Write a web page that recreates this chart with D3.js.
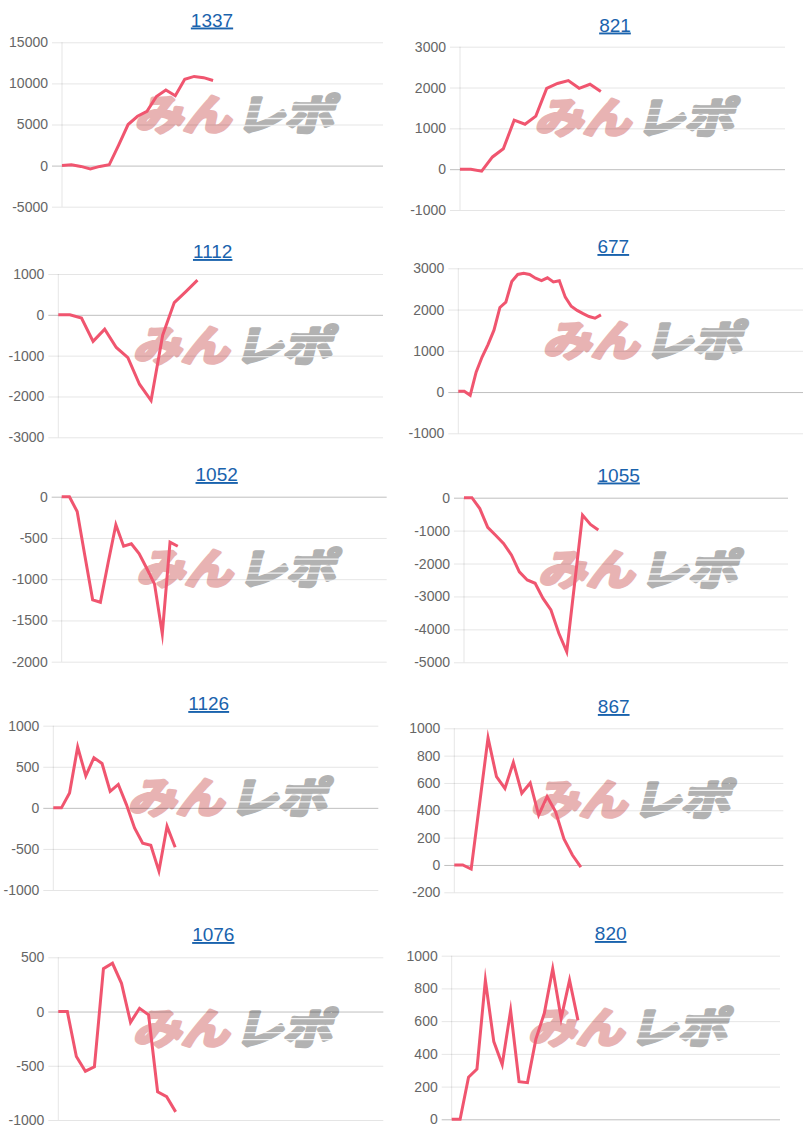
<!DOCTYPE html>
<html>
<head>
<meta charset="utf-8">
<script src="https://cdn.jsdelivr.net/npm/d3@7/dist/d3.min.js"></script>
<style>
  html, body { margin: 0; padding: 0; background: #fff; }
  svg { display: block; }
</style>
</head>
<body>
<svg id="chart" width="804" height="1140"></svg>
<script>
// ---- data ----
const titles = ["1337", "821", "1112", "677", "1052", "1055", "1126", "867", "1076", "820"];

const series1337 = [0, 100, -100, -400, -100, 100, 2500, 5000, 6000, 6600, 8400, 9200, 8500, 10500, 10850, 10700, 10350];
const series821  = [0, 0, -50, 300, 500, 1200, 1100, 1300, 1980, 2100, 2170, 1980, 2080, 1900];
const series1112 = [0, 0, -80, -650, -350, -800, -1050, -1700, -2100, -500, 300, 570, 850];
const series677  = [20, 20, -80, 480, 850, 1150, 1500, 2050, 2180, 2680, 2850, 2880, 2850, 2760, 2700, 2770, 2670, 2700, 2300, 2080, 1980, 1900, 1830, 1790, 1870];
const series1052 = [0, 0, -180, -720, -1250, -1280, -800, -340, -600, -570, -690, -870, -1060, -1660, -550, -600];
const series1055 = [0, 0, -330, -900, -1140, -1390, -1740, -2250, -2500, -2600, -3060, -3410, -4120, -4680, -2600, -530, -810, -980];
const series1126 = [0, 0, 180, 740, 390, 610, 540, 200, 285, 40, -245, -430, -455, -770, -225, -480];
const series867  = [0, 0, -30, 450, 930, 646, 560, 750, 525, 600, 365, 500, 390, 190, 73, -15];
const series1076 = [0, 0, -415, -550, -510, 395, 445, 260, -100, 30, -30, -740, -785, -925];
const series820  = [0, 0, 257, 307, 850, 475, 335, 665, 230, 224, 490, 648, 920, 617, 850, 605];

// total number of x slots on each chart's category axis
const slotCounts = [34, 30, 28, 58, 42, 41, 40, 39, 36, 39];

const ticks1337 = [-5000, 0, 5000, 10000, 15000];
const ticks821  = [-1000, 0, 1000, 2000, 3000];
const ticks1112 = [-3000, -2000, -1000, 0, 1000];
const ticks677  = [-1000, 0, 1000, 2000, 3000];
const ticks1052 = [-2000, -1500, -1000, -500, 0];
const ticks1055 = [-5000, -4000, -3000, -2000, -1000, 0];
const ticks1126 = [-1000, -500, 0, 500, 1000];
const ticks867  = [-200, 0, 200, 400, 600, 800, 1000];
const ticks1076 = [-1000, -500, 0, 500];
const ticks820  = [0, 200, 400, 600, 800, 1000];

const seriesList = [series1337, series821, series1112, series677, series1052, series1055, series1126, series867, series1076, series820];
const tickList = [ticks1337, ticks821, ticks1112, ticks677, ticks1052, ticks1055, ticks1126, ticks867, ticks1076, ticks820];

// ---- layout (pixel positions of each panel) ----
const panels = [
  {tx: 212, ty: 26.5, x0: 62,    x1: 383,   yb: 206.7, yt: 42.3},
  {tx: 615, ty: 31.5, x0: 460,   x1: 785,   yb: 210,   yt: 46.7},
  {tx: 212.7, ty: 258, x0: 58.3, x1: 383,   yb: 437.3, yt: 274},
  {tx: 613.3, ty: 253, x0: 458.3, x1: 803,  yb: 433.3, yt: 268.3},
  {tx: 216.7, ty: 481, x0: 61.7, x1: 386.7, yb: 661.7, yt: 496.7},
  {tx: 618.7, ty: 481.5, x0: 464, x1: 788,  yb: 662.3, yt: 497.7},
  {tx: 208.7, ty: 710, x0: 53.3, x1: 378.3, yb: 890,   yt: 725.7},
  {tx: 613.7, ty: 713, x0: 454.3, x1: 783.3, yb: 892.3, yt: 728.3},
  {tx: 213.3, ty: 941, x0: 58.3, x1: 383.3, yb: 1120,  yt: 957.3},
  {tx: 610.7, ty: 940, x0: 451.7, x1: 780,  yb: 1119.3, yt: 955.7}
];

const svg = d3.select("#chart");
const lineColor = "#f0556f";

seriesList.forEach((vals, i) => {
  const p = panels[i];
  const ticks = tickList[i];
  const g = svg.append("g");

  const x = d3.scaleLinear().domain([0, slotCounts[i]]).range([p.x0, p.x1]);
  const y = d3.scaleLinear().domain([d3.min(ticks), d3.max(ticks)]).range([p.yb, p.yt]);

  // watermark (behind everything)
  const cx = (p.x0 + p.x1) / 2 + 11;
  const cy = (p.yb + p.yt) / 2 - 10;
  const wm = g.append("g").attr("transform", `translate(${cx},${cy + 15}) skewX(-14)`);
  wm.append("text")
    .attr("x", -99).attr("y", 0)
    .attr("textLength", 96).attr("lengthAdjust", "spacingAndGlyphs")
    .attr("font-family", "'Noto Sans CJK JP', sans-serif")
    .attr("font-weight", 700).attr("font-size", 42)
    .attr("fill", "#e8b3b3").attr("stroke", "#e8b3b3")
    .attr("stroke-width", 3.5).attr("stroke-linejoin", "round")
    .text("みん");
  wm.append("text")
    .attr("x", 2).attr("y", 0)
    .attr("textLength", 98).attr("lengthAdjust", "spacingAndGlyphs")
    .attr("font-family", "'Noto Sans CJK JP', sans-serif")
    .attr("font-weight", 700).attr("font-size", 42)
    .attr("fill", "#b2b2b2").attr("stroke", "#b2b2b2")
    .attr("stroke-width", 3.5).attr("stroke-linejoin", "round")
    .text("レポ");
  // speed-line stripes across the grey part
  [-25, -18, -11, -4].forEach(dy => {
    wm.append("line")
      .attr("x1", 0).attr("x2", 106)
      .attr("y1", dy).attr("y2", dy)
      .attr("stroke", "#fff").attr("stroke-width", 1.3).attr("opacity", 0.85);
  });

  // y axis
  const axis = d3.axisLeft(y)
    .tickValues(ticks)
    .tickSize(-(p.x1 - p.x0 + 10))
    .tickPadding(4)
    .tickFormat(d => String(d));
  const ag = g.append("g")
    .attr("transform", `translate(${p.x0 - 10},0)`)
    .call(axis);
  ag.select(".domain").remove();
  ag.selectAll(".tick line")
    .attr("stroke", d => d === 0 ? "rgba(0,0,0,0.25)" : "rgba(0,0,0,0.1)")
    .attr("stroke-width", 1);
  ag.selectAll(".tick text")
    .attr("fill", "#666")
    .attr("font-family", "'Liberation Sans', Arial, sans-serif")
    .attr("font-size", 14);

  // vertical axis line at plot left
  g.append("line")
    .attr("x1", p.x0).attr("x2", p.x0)
    .attr("y1", p.yt).attr("y2", p.yb)
    .attr("stroke", "rgba(0,0,0,0.1)");

  // the series line
  const line = d3.line()
    .x((d, j) => x(j))
    .y(d => y(d))
    .curve(d3.curveLinear);
  g.append("path")
    .datum(vals)
    .attr("d", line)
    .attr("fill", "none")
    .attr("stroke", lineColor)
    .attr("stroke-width", 3)
    .attr("stroke-linejoin", "miter")
    .attr("stroke-miterlimit", 10);

  // title (link style)
  g.append("text")
    .attr("x", p.tx).attr("y", p.ty)
    .attr("text-anchor", "middle")
    .attr("font-family", "'Liberation Sans', Arial, sans-serif")
    .attr("font-size", 19)
    .attr("fill", "#1a63ad")
    .style("text-decoration", "underline")
    .text(titles[i]);
});
</script>
</body>
</html>
